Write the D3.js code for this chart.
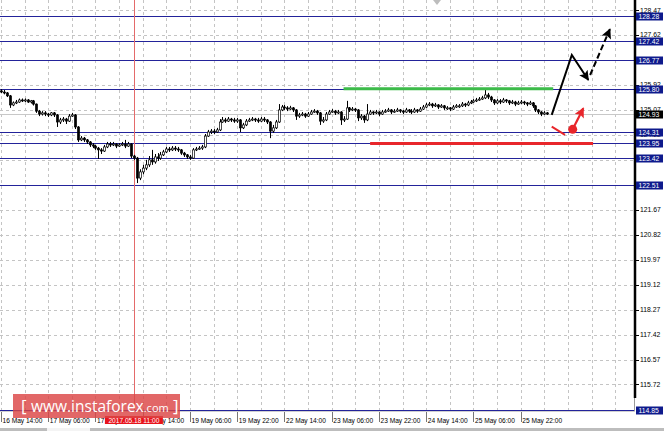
<!DOCTYPE html>
<html><head><meta charset="utf-8">
<script src="https://cdn.jsdelivr.net/npm/d3@7"></script>
<style>html,body{margin:0;padding:0;background:#fff;overflow:hidden}svg{display:block}</style>
</head><body><svg id="c" width="664" height="431"></svg>
<script>
// ---- data ----
const firstOpen = 125.72;
const closes = [
125.68,125.65,125.55,125.24,125.31,125.34,125.41,125.38,125.41,125.34,
125.38,125.27,125.03,124.93,124.97,124.93,124.90,124.97,124.90,124.66,
124.73,124.76,124.69,124.86,124.90,124.49,124.05,124.11,124.05,123.98,
123.88,123.84,123.77,123.71,123.67,123.81,123.91,123.88,123.91,123.84,
123.88,123.91,123.84,123.91,123.50,123.43,122.75,122.96,123.09,123.20,
123.37,123.30,123.47,123.43,123.54,123.64,123.74,123.71,123.77,123.74,
123.71,123.60,123.54,123.47,123.43,123.71,123.74,123.77,123.81,124.18,
124.32,124.35,124.32,124.39,124.66,124.73,124.69,124.76,124.73,124.69,
124.73,124.46,124.56,124.69,124.73,124.76,124.73,124.69,124.76,124.73,
124.66,124.35,124.46,124.66,125.07,125.17,125.14,125.10,125.14,125.07,
124.86,124.90,124.93,124.86,124.93,125.00,125.03,124.97,124.69,124.73,
124.93,125.00,125.03,124.97,125.00,124.73,124.76,125.14,125.07,125.10,
125.07,124.80,124.86,124.73,124.93,125.00,124.97,125.00,124.93,125.00,
125.03,125.07,125.00,125.03,125.07,125.03,125.00,125.07,125.03,125.00,
125.07,125.03,125.10,125.17,125.24,125.27,125.21,125.24,125.17,125.21,
125.14,125.14,125.10,125.17,125.21,125.21,125.27,125.24,125.31,125.34,
125.38,125.41,125.44,125.48,125.58,125.51,125.41,125.31,125.38,125.34,
125.41,125.38,125.31,125.34,125.27,125.31,125.34,125.31,125.27,125.31,
125.21,125.07,125.00,124.93,124.97,124.93];
const highs = [
125.78,125.75,125.68,125.58,125.36,125.41,125.46,125.46,125.46,125.44,
125.41,125.41,125.29,125.07,125.03,125.03,124.97,125.00,125.00,124.93,
124.80,124.83,124.80,124.93,124.97,124.93,124.52,124.18,124.15,124.08,
124.01,123.94,123.88,123.81,123.77,123.88,123.98,123.98,123.98,123.94,
123.94,123.98,124.05,123.98,123.94,123.54,123.47,123.05,123.20,123.37,
123.50,123.71,123.57,123.60,123.64,123.71,123.81,123.81,123.84,123.84,
123.81,123.74,123.64,123.57,123.54,123.77,123.81,123.84,123.88,124.25,
124.39,124.42,124.42,124.46,124.76,124.83,124.80,124.83,124.80,124.80,
124.80,124.76,124.63,124.76,124.80,124.83,124.80,124.80,124.83,124.83,
124.76,124.69,124.56,124.73,125.27,125.24,125.24,125.20,125.21,125.17,
125.10,124.97,125.00,124.97,125.00,125.07,125.10,125.07,125.00,124.83,
125.00,125.07,125.10,125.07,125.07,125.03,124.86,125.38,125.17,125.17,
125.14,125.10,124.93,124.90,125.27,125.07,125.03,125.07,125.03,125.07,
125.10,125.14,125.10,125.10,125.14,125.10,125.07,125.14,125.10,125.10,
125.14,125.10,125.17,125.24,125.31,125.34,125.31,125.31,125.27,125.27,
125.24,125.20,125.17,125.24,125.27,125.27,125.34,125.31,125.38,125.41,
125.44,125.48,125.51,125.55,125.75,125.65,125.55,125.44,125.44,125.44,
125.48,125.44,125.41,125.41,125.38,125.38,125.41,125.38,125.34,125.38,
125.34,125.24,125.10,125.03,125.03,125.00];
const lows = [
125.64,125.60,125.51,125.14,125.20,125.27,125.31,125.34,125.34,125.31,
125.29,125.22,124.97,124.86,124.88,124.86,124.83,124.86,124.83,124.49,
124.59,124.66,124.59,124.66,124.83,124.42,123.98,124.01,123.98,123.91,
123.81,123.77,123.71,123.40,123.57,123.64,123.77,123.81,123.84,123.77,
123.81,123.84,123.77,123.81,123.43,123.37,122.58,122.68,122.88,123.02,
123.13,123.20,123.24,123.33,123.37,123.50,123.60,123.64,123.67,123.67,
123.64,123.54,123.47,123.40,123.37,123.40,123.67,123.71,123.71,123.77,
124.15,124.25,124.25,124.29,124.35,124.63,124.63,124.66,124.66,124.63,
124.63,124.32,124.42,124.52,124.66,124.69,124.66,124.63,124.66,124.66,
124.59,124.11,124.29,124.42,124.63,125.03,125.07,125.03,125.07,125.00,
124.73,124.80,124.86,124.80,124.83,124.90,124.97,124.90,124.56,124.63,
124.69,124.90,124.97,124.90,124.93,124.56,124.66,124.73,125.00,125.03,
125.00,124.69,124.73,124.63,124.69,124.90,124.90,124.93,124.86,124.90,
124.97,125.00,124.93,124.97,125.00,124.97,124.93,124.97,124.97,124.93,
124.97,124.97,125.00,125.07,125.14,125.20,125.14,125.17,125.10,125.14,
125.07,125.07,125.03,125.07,125.14,125.14,125.17,125.17,125.20,125.27,
125.31,125.34,125.38,125.41,125.44,125.44,125.34,125.24,125.27,125.27,
125.31,125.31,125.24,125.27,125.20,125.24,125.27,125.24,125.20,125.24,
125.14,125.00,124.93,124.86,124.90,124.90];
const levels = [128.28,127.42,126.77,125.80,124.31,123.95,123.42,122.51,114.85];
const bidPrice = 124.93;
const gridPrices = [128.47,127.62,126.77,125.92,125.07,124.22,123.37,122.52,121.67,120.82,119.97,119.12,118.27,117.42,116.57,115.72];
const timeLabels = ["16 May 14:00","17 May 06:00","17 May 22:00","18 May 14:00","19 May 06:00","19 May 22:00","22 May 14:00","23 May 06:00","23 May 22:00","24 May 14:00","25 May 06:00","25 May 22:00"];
const timeLabelStep = 16;
const markerIndex = 45;
const markerLabel = "2017.05.18 11:00";
const greenLevel = {from:116, to:187, price:125.79};
const redLevel = {from:125, to:200.5, price:123.93};
const forecastSolid = [[186.5,124.90],[193.3,126.94],[198.9,126.09]];
const forecastDashed = [[199.5,126.26],[206.2,127.82]];
const redStroke = [[186.5,124.50],[191,124.22]];
const redDot = [193.6,124.41];
const redArrowTip = [197.2,125.13];

// ---- layout ----
const W = 664, H = 431, plotRight = 634, plotBottom = 410;
const svg = d3.select("#c");
const x = d3.scaleLinear().domain([0, 214]).range([1, 1 + 214 * 2.953]);
const y = d3.scaleLinear().domain([114.85, 128.815]).range([plotBottom, 0]);
const px = v => Math.round(v) + 0.5;

const defs = svg.append("defs");
defs.append("clipPath").attr("id","clip").append("rect").attr("x",0).attr("y",0).attr("width",plotRight).attr("height",plotBottom+1);
function marker(id, color, w, h){
  defs.append("marker").attr("id",id).attr("viewBox","0 0 10 10").attr("refX",9).attr("refY",5)
    .attr("markerUnits","userSpaceOnUse").attr("markerWidth",w).attr("markerHeight",h).attr("orient","auto")
    .append("path").attr("d","M0,0 L10,5 L0,10 L2,5 Z").attr("fill",color);
}
marker("arrK","#000",12,10);
marker("arrR","#e8262b",11,10);

svg.append("rect").attr("width",W).attr("height",H).attr("fill","#fff");
const plot = svg.append("g").attr("clip-path","url(#clip)");

// vertical grid
const vIdx = d3.range(0, 214, 8);
plot.selectAll(".vg").data(vIdx).join("line")
  .attr("x1",d=>px(x(d))).attr("x2",d=>px(x(d))).attr("y1",0).attr("y2",plotBottom)
  .attr("stroke","#c4c4c4").attr("stroke-dasharray","3,3");
// horizontal grid
plot.selectAll(".hg").data(gridPrices).join("line")
  .attr("x1",0).attr("x2",plotRight).attr("y1",d=>px(y(d))).attr("y2",d=>px(y(d)))
  .attr("stroke","#c4c4c4").attr("stroke-dasharray","3,3");

// bid line
plot.append("line").attr("x1",0).attr("x2",plotRight).attr("y1",px(y(bidPrice))).attr("y2",px(y(bidPrice)))
  .attr("stroke","#c8c8c8");

// level lines
plot.selectAll(".lv").data(levels).join("line")
  .attr("x1",0).attr("x2",plotRight).attr("y1",d=>px(y(d))).attr("y2",d=>px(y(d)))
  .attr("stroke","#23239a").attr("stroke-width",1);

// marker vertical red line
plot.append("line").attr("x1",px(x(markerIndex))).attr("x2",px(x(markerIndex))).attr("y1",0).attr("y2",plotBottom)
  .attr("stroke","#e46a6a").attr("stroke-width",1);

// candles
const bars = closes.map((c,i)=>({i, o: i ? closes[i-1] : firstOpen, c, h: highs[i], l: lows[i]}));
const cg = plot.append("g");
cg.selectAll(".wk").data(bars).join("line")
  .attr("x1",d=>px(x(d.i))).attr("x2",d=>px(x(d.i)))
  .attr("y1",d=>y(d.h)).attr("y2",d=>y(d.l)).attr("stroke","#000").attr("stroke-width",1);
cg.selectAll(".bd").data(bars).join("rect")
  .attr("x",d=>Math.round(x(d.i))-0.5)
  .attr("y",d=>y(Math.max(d.o,d.c)))
  .attr("width",2)
  .attr("height",d=>Math.max(1, Math.abs(y(d.o)-y(d.c))))
  .attr("fill",d=>d.c>=d.o ? "#fff" : "#000")
  .attr("stroke","#000").attr("stroke-width",0.7);

// green & red horizontal levels
plot.append("line").attr("x1",x(greenLevel.from)).attr("x2",x(greenLevel.to))
  .attr("y1",y(greenLevel.price)).attr("y2",y(greenLevel.price)).attr("stroke","#3dbb4a").attr("stroke-width",3);
plot.append("line").attr("x1",x(redLevel.from)).attr("x2",x(redLevel.to))
  .attr("y1",y(redLevel.price)).attr("y2",y(redLevel.price)).attr("stroke","#e8262b").attr("stroke-width",3);

// forecast arrows
const line = d3.line().x(d=>x(d[0])).y(d=>y(d[1]));
plot.append("path").attr("d",line(forecastSolid)).attr("fill","none").attr("stroke","#000")
  .attr("stroke-width",2).attr("marker-end","url(#arrK)");
plot.append("path").attr("d",line(forecastDashed)).attr("fill","none").attr("stroke","#000")
  .attr("stroke-width",2).attr("stroke-dasharray","6,3").attr("marker-end","url(#arrK)");
plot.append("path").attr("d",line(redStroke)).attr("fill","none").attr("stroke","#e8262b").attr("stroke-width",2);
plot.append("path").attr("d",line([redDot, redArrowTip])).attr("fill","none").attr("stroke","#e8262b")
  .attr("stroke-width",2.2).attr("marker-end","url(#arrR)");
plot.append("circle").attr("cx",x(redDot[0])).attr("cy",y(redDot[1])).attr("r",4.5).attr("fill","#e8262b");

// small gray object at top
svg.append("path").attr("d","M433,0 L441,0 L437,5 Z").attr("fill","#bdbdbd");

// right border
svg.append("line").attr("x1",635).attr("x2",635).attr("y1",0).attr("y2",398).attr("stroke","#000").attr("stroke-width",2.5);
svg.append("line").attr("x1",634.5).attr("x2",634.5).attr("y1",398).attr("y2",412).attr("stroke","#999");
// bottom border
svg.append("line").attr("x1",0).attr("x2",635).attr("y1",411.5).attr("y2",411.5).attr("stroke","#d0d0d0");

const FONT = "'Liberation Sans', Arial, sans-serif";
// right axis grid labels (those fully hidden behind an identical level box are skipped)
const ra = svg.append("g");
const visibleGrid = gridPrices.filter(g => !levels.some(l => Math.abs(l - g) < 0.06));
ra.selectAll(".rt").data(gridPrices).join("line")
  .attr("x1",636).attr("x2",639).attr("y1",d=>px(y(d))).attr("y2",d=>px(y(d))).attr("stroke","#000");
ra.selectAll(".rl").data(visibleGrid).join("text")
  .attr("x",640).attr("y",d=>y(d)+2.4).text(d=>d.toFixed(2))
  .attr("font-family",FONT).attr("font-size",6.8).attr("fill","#000");
// level labels
const lab = svg.append("g");
const allLabels = levels.map(p=>({p, bg:"#0e1a8c"})).concat([{p:bidPrice, bg:"#000"}]);
lab.selectAll("rect").data(allLabels).join("rect")
  .attr("x",636).attr("y",d=>Math.round(y(d.p))-3.5).attr("width",27).attr("height",8).attr("fill",d=>d.bg);
lab.selectAll("text").data(allLabels).join("text")
  .attr("x",638.5).attr("y",d=>Math.round(y(d.p))+3).text(d=>d.p.toFixed(2))
  .attr("font-family",FONT).attr("font-size",6.8).attr("fill","#fff");

// x axis labels
const xa = svg.append("g");
const tIdx = timeLabels.map((t,k)=>({t, i:k*timeLabelStep}));
xa.selectAll("line").data(tIdx).join("line")
  .attr("x1",d=>px(x(d.i))).attr("x2",d=>px(x(d.i))).attr("y1",412).attr("y2",422).attr("stroke","#777");
xa.selectAll("text").data(tIdx).join("text")
  .attr("x",d=>x(d.i)+1.5).attr("y",d=>423).text(d=>d.t)
  .attr("font-family",FONT).attr("font-size",6.6).attr("fill","#000");
// marker date label
xa.append("rect").attr("x",x(markerIndex)-29).attr("y",416).attr("width",58).attr("height",8).attr("fill","#e8141c");
xa.append("text").attr("x",x(markerIndex)).attr("y",422.5).attr("text-anchor","middle").text(markerLabel)
  .attr("font-family",FONT).attr("font-size",6.6).attr("fill","#fff");

// bottom tab bar
svg.append("rect").attr("x",0).attr("y",428).attr("width",W).attr("height",3).attr("fill","#bdbdbd");
svg.append("rect").attr("x",47).attr("y",428).attr("width",43).attr("height",3).attr("fill","#f4f4f4");

// logo
const logo = svg.append("g");
logo.append("rect").attr("x",13).attr("y",394).attr("width",167).attr("height",24).attr("fill","#dc4646").attr("opacity",0.82);
const lt = logo.append("text").attr("x",21).attr("y",412).attr("font-family","'Open Sans', 'Liberation Sans', sans-serif").attr("fill","#fff");
lt.append("tspan").attr("font-size",17).text("[ ");
lt.append("tspan").attr("font-size",15.5).text("www.instaforex");
lt.append("tspan").attr("font-size",11).text(".com");
lt.append("tspan").attr("font-size",17).text(" ]");
</script></body></html>
